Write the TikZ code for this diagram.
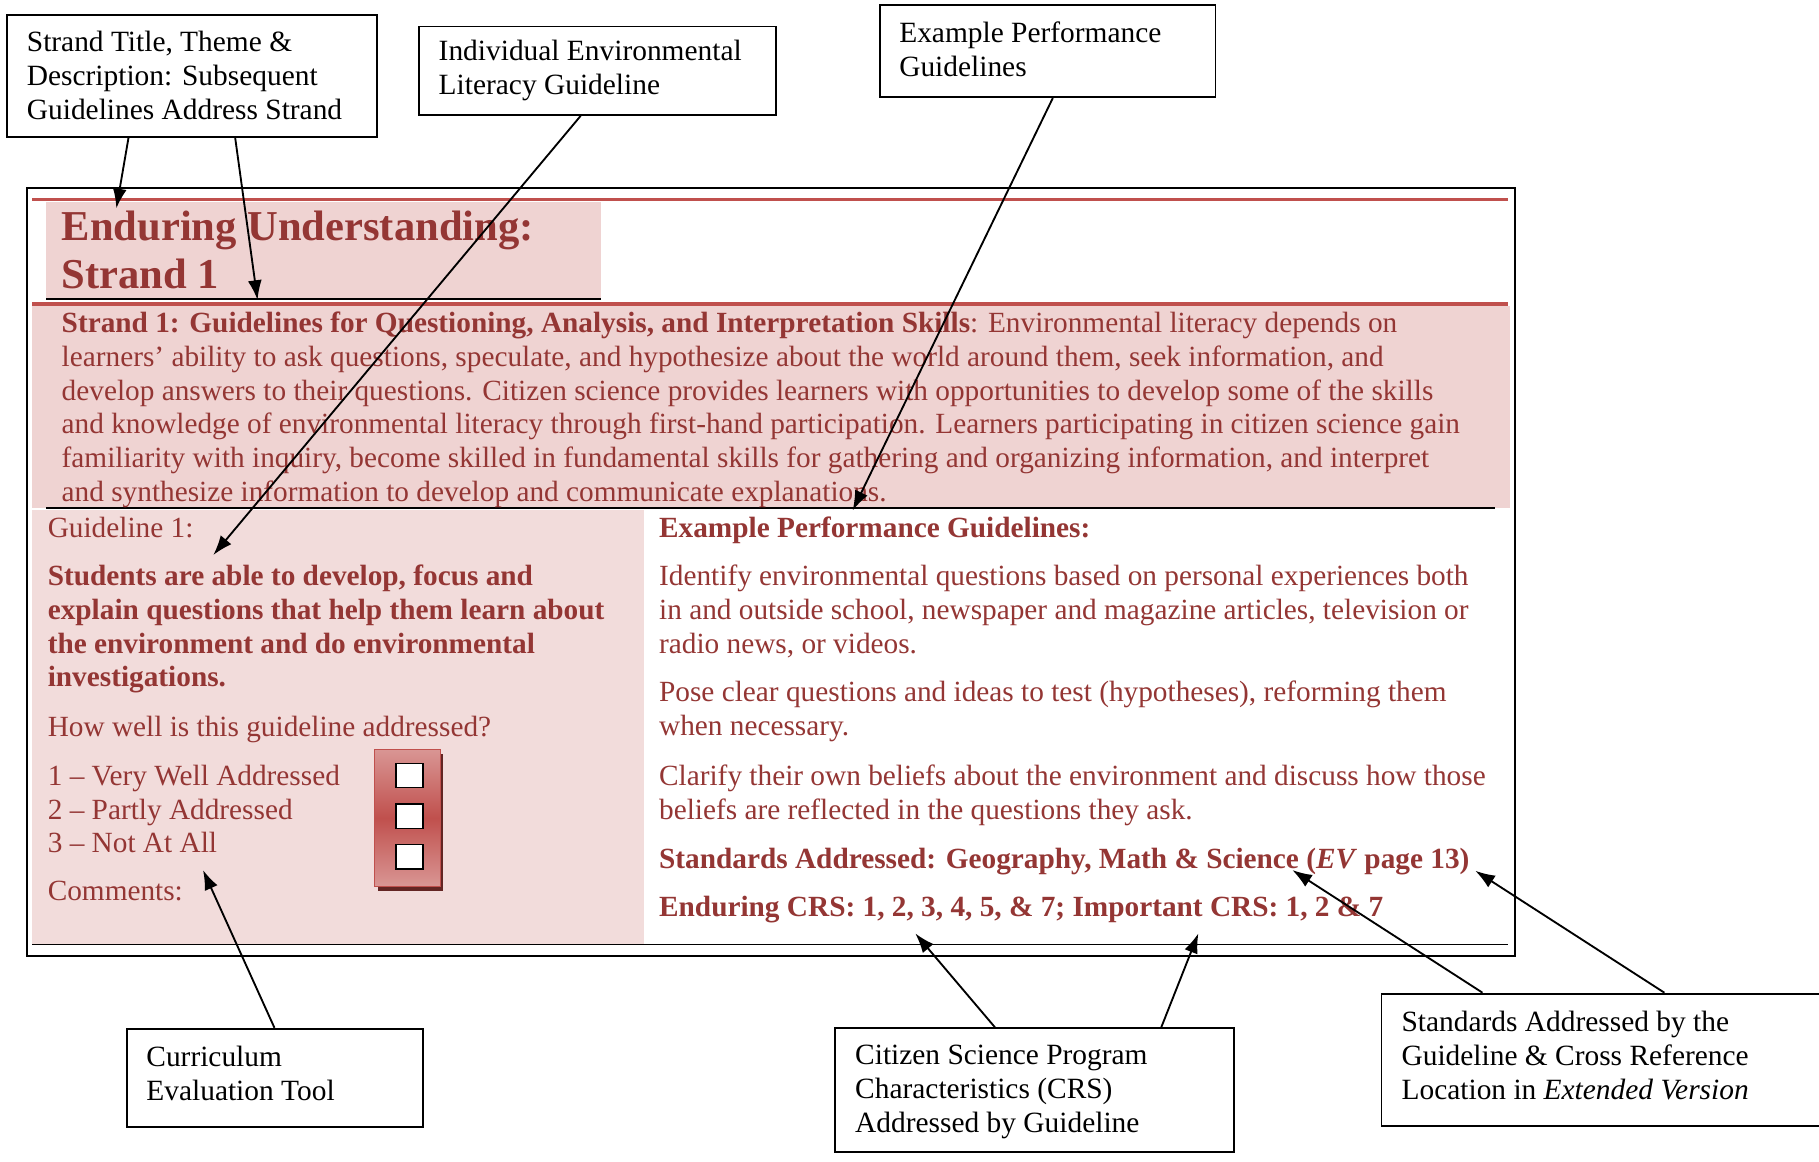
\documentclass[tikz,border=0pt]{standalone}
\usepackage{fontspec}
\setmainfont{Liberation Serif}
\usetikzlibrary{arrows.meta,calc}
\definecolor{dred}{HTML}{943634}
\definecolor{lred}{HTML}{C0504D}
\definecolor{pinkA}{HTML}{EFD3D2}
\definecolor{pinkB}{HTML}{F2DCDB}
\definecolor{chklight}{HTML}{D99694}
\definecolor{chkshadow}{HTML}{632523}
\newcommand\bodyfont{\fontsize{25.25}{29}\selectfont}
\tikzset{
  cbox/.style={draw, line width=1.6pt, anchor=north west, inner sep=0pt},
  ctext/.style={anchor=west, align=left, inner sep=0pt, font=\fontsize{25.35}{29.3}\selectfont},
  ln/.style={anchor=base west, inner sep=0pt, text=dred, font=\bodyfont},
  bln/.style={ln, font=\bodyfont\bfseries},
  arr/.style={-{Latex[length=17pt,width=12pt]}, line width=1.6pt},
  chk/.style={draw, fill=white, line width=1.3pt, minimum width=23pt, minimum height=21pt, inner sep=0pt}
}
\begin{document}
\begin{tikzpicture}[x=1pt,y=-1pt]
\useasboundingbox (0,0) rectangle (1568,1001);
\fill[white] (0,0) rectangle (1568,1001);
% background fills
\fill[pinkA] (40,174) rectangle (518,258);
\fill[pinkA] (28,264) rectangle (1302,438);
\fill[pinkB] (28,440) rectangle (555,814);
% rules
\draw[lred, line width=2.6pt] (28,172) -- (1300,172);
\draw[line width=2pt] (40,258) -- (518,258);
\draw[lred, line width=3.6pt] (28,262) -- (1300,262);
\draw[line width=1.8pt] (40,438) -- (1289,438);
\draw[line width=1pt] (28,814) -- (1300,814);
\draw[line width=1.6pt] (23,162) rectangle (1306,824);
% title
\node[anchor=base west, inner sep=0pt, text=dred, font=\fontsize{36.7}{42}\selectfont\bfseries] (t1) at (53,207) {Enduring Understanding:};
\node[anchor=base west, inner sep=0pt, text=dred, font=\fontsize{36.7}{42}\selectfont\bfseries] (t2) at (53,248.5) {Strand 1};
% strand paragraph
\node[ln] (p1) at (53,287) {\textbf{Strand 1: Guidelines for Questioning, Analysis, and Interpretation Skills}: Environmental literacy depends on};
\node[ln] (p2) at (53,316) {learners’ ability to ask questions, speculate, and hypothesize about the world around them, seek information, and};
\node[ln] (p3) at (53,345) {develop answers to their questions. Citizen science provides learners with opportunities to develop some of the skills};
\node[ln] (p4) at (53,374) {and knowledge of environmental literacy through first-hand participation. Learners participating in citizen science gain};
\node[ln] (p5) at (53,403) {familiarity with inquiry, become skilled in fundamental skills for gathering and organizing information, and interpret};
\node[ln] (p6) at (53,432) {and synthesize information to develop and communicate explanations.};
% left column
\node[ln] (g0) at (41,463) {Guideline 1:};
\node[bln] (g1) at (41,505) {Students are able to develop, focus and};
\node[bln] (g2) at (41,534) {explain questions that help them learn about};
\node[bln] (g3) at (41,563) {the environment and do environmental};
\node[bln] (g4) at (41,592) {investigations.};
\node[ln] (hw) at (41,634.5) {How well is this guideline addressed?};
\node[ln] (r1) at (41,677) {1 – Very Well Addressed};
\node[ln] (r2) at (41,706) {2 – Partly Addressed};
\node[ln] (r3) at (41,735) {3 – Not At All};
\node[ln] (cm) at (41,776.5) {Comments:};
% checkbox panel
\fill[chkshadow] (326,650) rectangle (381.5,768);
\draw[lred, line width=1pt, top color=chklight, bottom color=chklight, middle color=lred] (323,646) rectangle (380,764);
\node[chk] (c1) at (353,668.5) {};
\node[chk] (c2) at (353,703.5) {};
\node[chk] (c3) at (353,738.5) {};
% right column
\node[bln] (e0) at (568,463) {Example Performance Guidelines:};
\node[ln] (e1) at (568,505) {Identify environmental questions based on personal experiences both};
\node[ln] (e2) at (568,534) {in and outside school, newspaper and magazine articles, television or};
\node[ln] (e3) at (568,563) {radio news, or videos.};
\node[ln] (e4) at (568,605) {Pose clear questions and ideas to test (hypotheses), reforming them};
\node[ln] (e5) at (568,634) {when necessary.};
\node[ln] (e6) at (568,677) {Clarify their own beliefs about the environment and discuss how those};
\node[ln] (e7) at (568,706) {beliefs are reflected in the questions they ask.};
\node[bln] (e8) at (568,749) {Standards Addressed: Geography, Math \& Science (\textit{EV} page 13)};
\node[bln] (e9) at (568,790) {Enduring CRS: 1, 2, 3, 4, 5, \& 7; Important CRS: 1, 2 \& 7};
% callout boxes
\node[cbox, minimum width=318.7pt, minimum height=105pt] (s1) at (5.3,12) {};
\node[ctext] (s1t) at ([xshift=17.7pt]s1.west) {Strand Title, Theme \&\\Description: Subsequent\\Guidelines Address Strand};
\node[cbox, minimum width=307.4pt, minimum height=76.2pt] (s2) at (360.6,22.1) {};
\node[ctext] (s2t) at ([xshift=17.4pt]s2.west) {Individual Environmental\\Literacy Guideline};
\node[cbox, minimum width=289.6pt, minimum height=79.6pt] (s3) at (757.4,3.4) {};
\node[ctext] (s3t) at ([xshift=17.6pt,yshift=1.5pt]s3.west) {Example Performance\\Guidelines};
\node[cbox, minimum width=255pt, minimum height=84.4pt] (s4) at (109,886) {};
\node[ctext] (s4t) at ([xshift=17pt,yshift=4pt]s4.west) {Curriculum\\Evaluation Tool};
\node[cbox, minimum width=344pt, minimum height=106.6pt] (s5) at (718.7,885.6) {};
\node[ctext] (s5t) at ([xshift=18.3pt,yshift=-1.5pt]s5.west) {Citizen Science Program\\Characteristics (CRS)\\Addressed by Guideline};
\node[cbox, minimum width=390pt, minimum height=114.3pt] (s6) at (1190,855.7) {};
\node[ctext] (s6t) at ([xshift=18pt,yshift=4pt]s6.west) {Standards Addressed by the\\Guideline \& Cross Reference\\Location in \textit{Extended Version}};
% arrow targets
\coordinate (ta) at (100.3,179.6);
\coordinate (tb) at (222,258.6);
\coordinate (tc) at (183.9,478.4);
\coordinate (td) at (735,440);
\coordinate (te) at (175,750);
\coordinate (tf) at (789,804.6);
\coordinate (tg) at (1033,804.6);
\coordinate (th) at (1114,750);
\coordinate (ti) at (1271.7,750.6);
% arrows
\draw[arr] ($(s1.south west)+(105.5,0)$) -- (ta);
\draw[arr] ($(s1.south west)+(197.4,0)$) -- (tb);
\draw[arr] ($(s2.south west)+(139.9,0)$) -- (tc);
\draw[arr] ($(s3.south west)+(150.1,0)$) -- (td);
\draw[arr] ($(s4.north west)+(127.6,0)$) -- (te);
\draw[arr] ($(s5.north west)+(139,0)$) -- (tf);
\draw[arr] ($(s5.north west)+(282.3,0)$) -- (tg);
\draw[arr] ($(s6.north west)+(87.9,0)$) -- (th);
\draw[arr] ($(s6.north west)+(244.7,0)$) -- (ti);
\end{tikzpicture}
\end{document}
